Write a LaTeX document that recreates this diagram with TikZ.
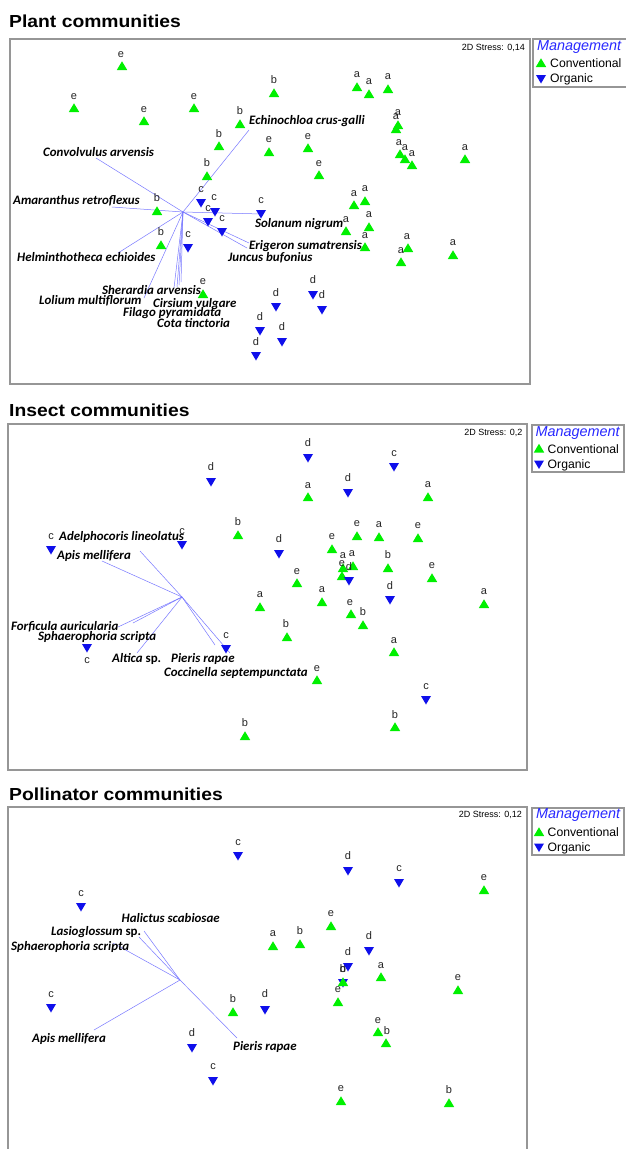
\documentclass[tikz,border=0pt]{standalone}
\usepackage{fontspec}
\setmainfont{Liberation Sans}
\newfontfamily\spfont{Carlito}
\newfontfamily\titlefont[FakeStretch=1.11]{Liberation Sans}
\definecolor{cgreen}{RGB}{0,240,0}
\definecolor{oblue}{RGB}{15,15,235}
\definecolor{vecc}{RGB}{120,120,255}
\definecolor{frm}{RGB}{150,150,150}
\definecolor{mgmt}{RGB}{40,40,255}
\newcommand\ptc[2]{\fill[cgreen,shift={(#1,#2)}] (-5.2,4) -- (5.2,4) -- (0,-4.7) -- cycle;}
\newcommand\pto[2]{\fill[oblue,shift={(#1,#2)}] (-5,-4) -- (5,-4) -- (0,4.5) -- cycle;}
\newcommand\ptl[3]{\node[lbl,anchor=base] at (#1,#2+3.6) {#3};}
\tikzset{
  lbl/.style={font=\fontsize{11}{12}\selectfont, text=black!85, inner sep=0},
  spl/.style={font=\spfont\fontsize{12.9}{14}\selectfont\bfseries\itshape, inner sep=0, anchor=base west},
  ttl/.style={font=\titlefont\fontsize{17.4}{20}\selectfont\bfseries, inner sep=0, anchor=base west},
  stress/.style={font=\fontsize{9}{10}\selectfont, inner sep=0, anchor=east},
  mg/.style={font=\fontsize{14.4}{16}\selectfont\itshape, text=mgmt, inner sep=0, anchor=west},
  lg/.style={font=\fontsize{12.2}{14}\selectfont, inner sep=0, anchor=west},
  frame/.style={draw=frm, line width=1.2pt},
  vecl/.style={draw=vecc, line width=0.5pt}
}
\begin{document}
\begin{tikzpicture}[x=1pt,y=-1pt]
\useasboundingbox (0,0) rectangle (625,1149);
\fill[white] (0,0) rectangle (625,1149);

% ================= Panel 1 =================
\node[ttl] (t1) at (9,27.3) {Plant communities};
\draw[frame] (10,39) rectangle (530,384);
\draw[frame] (626,39) -- (533,39) -- (533,87) -- (626,87);
\node[stress] (s1) at (525,47.5) {2D Stress: 0,14};
\node[mg] (m1) at (537,47) {Management};
\ptc{541}{63}\node[lg] (c1) at (550,63.5) {Conventional};
\pto{541}{79}\node[lg] (o1l) at (550,79.5) {Organic};

\coordinate (o1) at (183,212);
\foreach \n/\x/\y in {a/249/130,b/96/158,c/112/207,d/118/253,e/144/298,f/174/288,g/177/287,h/179/285,i/181/282,j/262/214,k/249/243,l/247/248}{
  \coordinate (p1\n) at (\x,\y);
  \draw[vecl] (o1) -- (p1\n);
}
\node[spl] (n1a) at (249,124.5) {Echinochloa crus-galli};
\node[spl] (n1b) at (43,156.5) {Convolvulus arvensis};
\node[spl] (n1c) at (13,204) {Amaranthus retroflexus};
\node[spl] (n1d) at (17,261.5) {Helminthotheca echioides};
\node[spl] (n1f) at (102,294) {Sherardia arvensis};
\node[spl] (n1e) at (39,304) {Lolium multiflorum};
\node[spl] (n1g) at (153,307) {Cirsium vulgare};
\node[spl] (n1h) at (123,316.5) {Filago pyramidata};
\node[spl] (n1i) at (157,327.5) {Cota tinctoria};
\node[spl] (n1j) at (255,227.5) {Solanum nigrum};
\node[spl] (n1k) at (249,249.5) {Erigeron sumatrensis};
\node[spl] (n1l) at (228,261.5) {Juncus bufonius};

\foreach \t/\lx/\ly/\x/\y in {e/121/54/122/66, e/74/96/74/108, e/144/109/144/121, e/194/96/194/108,
  b/274/80/274/93, b/240/111/240/124, b/219/134/219/146, e/269/139/269/152, e/308/136/308/148,
  e/319/163/319/175, b/207/163/207/176, a/357/74/357/87, a/369/81/369/94, a/388/76/388/89,
  a/398/112/398/125, a/396/116/396/129, a/399/142/400/154, a/405/147/405/159, a/412/153/412/165,
  a/465/147/465/159, a/354/193/354/205, a/365/188/365/201, a/346/219/346/231, a/369/214/369/227,
  a/365/235/365/247, a/407/236/408/248, a/401/250/401/262, a/453/242/453/255,
  b/157/198/157/211, b/161/232/161/245, e/203/281/203/294}{
  \ptl{\lx}{\ly}{\t}\ptc{\x}{\y}
}
\foreach \t/\lx/\ly/\x/\y in {c/201/189/201/203, c/214/197/215/212, c/208/208/208/222, c/222/218/222/232,
  c/188/234/188/248, c/261/200/261/214, d/276/293/276/307, d/260/317/260/331, d/282/327/282/342,
  d/256/342/256/356, d/313/280/313/295, d/322/295/322/310}{
  \ptl{\lx}{\ly}{\t}\pto{\x}{\y}
}

% ================= Panel 2 =================
\node[ttl] (t2) at (9,416.7) {Insect communities};
\draw[frame] (8,424) rectangle (527,770);
\draw[frame] (532,425) rectangle (624,472);
\node[stress] (s2) at (522.5,433) {2D Stress: 0,2};
\node[mg] (m2) at (535.5,433) {Management};
\ptc{539}{448.5}\node[lg] (c2) at (547.5,449) {Conventional};
\pto{539}{464.5}\node[lg] (o2l) at (547.5,465) {Organic};

\coordinate (o2) at (182,597);
\foreach \n/\x/\y in {a/140/551,b/102/561,c/118/627,d/133/623,e/137/653,f/215/645,g/230/653}{
  \coordinate (p2\n) at (\x,\y);
  \draw[vecl] (o2) -- (p2\n);
}
\node[spl] (n2a) at (59,540) {Adelphocoris lineolatus};
\node[spl] (n2b) at (57,559.5) {Apis mellifera};
\node[spl] (n2c) at (11,630.5) {Forficula auricularia};
\node[spl] (n2d) at (38,640.5) {Sphaerophoria scripta};
\node[spl] (n2e) at (112,662) {Altica \upshape sp.};
\node[spl] (n2f) at (171,662) {Pieris rapae};
\node[spl] (n2g) at (164,676.5) {Coccinella septempunctata};

\foreach \t/\lx/\ly/\x/\y in {a/308/485/308/497, b/238/522/238/535, e/297/571/297/583, a/428/484/428/497,
  e/357/523/357/536, a/379/524/379/537, e/418/525/418/538, e/332/536/332/549, a/343/555/343/568,
  a/352/553/353/566, e/342/563/342/576, b/388/555/388/568, e/432/565/432/578, a/322/589/322/602,
  e/350/602/351/614, b/363/612/363/625, a/484/591/484/604, a/394/640/394/652, e/317/668/317/680,
  b/395/715/395/727, a/260/594/260/607, b/286/624/287/637, b/245/723/245/736}{
  \ptl{\lx}{\ly}{\t}\ptc{\x}{\y}
}
\foreach \t/\lx/\ly/\x/\y in {d/308/443/308/458, d/211/467/211/482, c/182/531/182/545, c/51/536/51/550,
  d/279/539/279/554, c/394/453/394/467, d/348/478/348/493, d/349/567/349/581, d/390/586/390/600,
  c/426/686/426/700, c/226/635/226/649, c/87/660/87/648}{
  \ptl{\lx}{\ly}{\t}\pto{\x}{\y}
}

% ================= Panel 3 =================
\node[ttl] (t3) at (9,800.7) {Pollinator communities};
\draw[frame] (8,1150) -- (8,807) -- (527,807) -- (527,1150);
\draw[frame] (532,808) rectangle (624,855);
\node[stress] (s3) at (522,815) {2D Stress: 0,12};
\node[mg] (m3) at (536,815) {Management};
\ptc{539}{832}\node[lg] (c3) at (547.5,832.5) {Conventional};
\pto{539}{847.5}\node[lg] (o3l) at (547.5,848) {Organic};

\coordinate (o3) at (180,980);
\foreach \n/\x/\y in {a/144/931,b/139/937,c/113/943,d/94/1030,e/237/1038}{
  \coordinate (p3\n) at (\x,\y);
  \draw[vecl] (o3) -- (p3\n);
}
\node[spl] (n3a) at (121.5,922.5) {Halictus scabiosae};
\node[spl] (n3b) at (51,935.5) {Lasioglossum \upshape sp.};
\node[spl] (n3c) at (11,950.5) {Sphaerophoria scripta};
\node[spl] (n3d) at (32,1042.5) {Apis mellifera};
\node[spl] (n3e) at (233,1050.5) {Pieris rapae};

\pto{343}{983}
\foreach \t/\lx/\ly/\x/\y in {a/273/933/273/946, b/300/931/300/944, e/484/877/484/890, e/331/913/331/926,
  a/381/965/381/977, b/233/999/233/1012, e/338/989/338/1002, e/458/977/458/990, e/378/1020/378/1032,
  b/387/1031/386/1043, e/341/1088/341/1101, b/449/1090/449/1103, b/343/969/343/982}{
  \ptl{\lx}{\ly}{\t}\ptc{\x}{\y}
}
\ptl{343}{969}{d}
\foreach \t/\lx/\ly/\x/\y in {c/238/842/238/856, c/81/893/81/907, d/348/856/348/871, c/399/868/399/883,
  d/369/936/369/951, d/348/952/348/967, c/51/994/51/1008, d/265/994/265/1010, d/192/1033/192/1048,
  c/213/1066/213/1081}{
  \ptl{\lx}{\ly}{\t}\pto{\x}{\y}
}
\end{tikzpicture}
\end{document}
